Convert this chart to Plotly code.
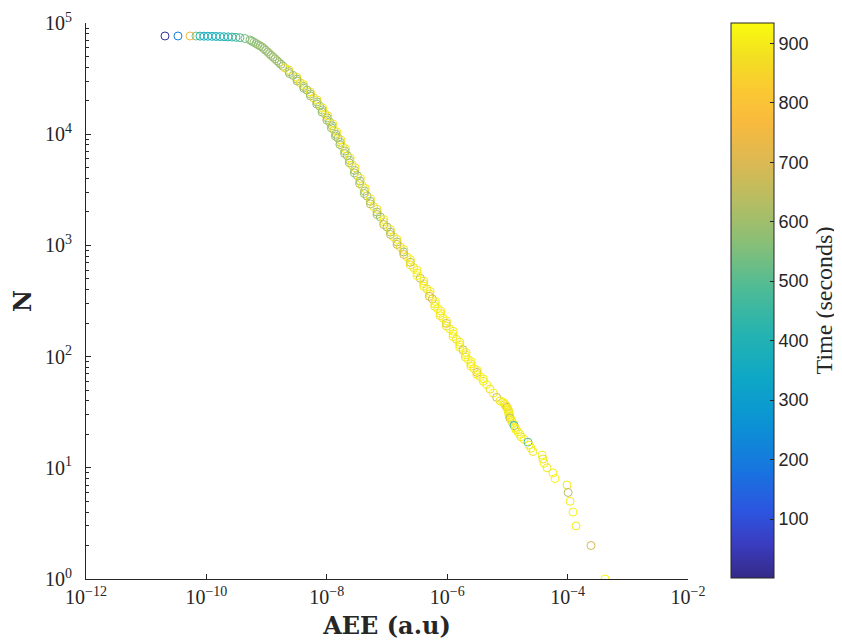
import plotly.graph_objects as go

# ---- data (AEE value, cumulative count N, time in s) ----
aee = [
    2.05e-11, 3.37e-11, 5.35e-11,
    6.71e-11, 7.83e-11, 9.12e-11, 1.06e-10, 1.24e-10, 1.44e-10, 1.68e-10, 1.96e-10,
    2.29e-10, 2.66e-10, 3.10e-10, 3.61e-10, 4.37e-10,
    5.30e-10, 6.18e-10, 7.19e-10, 8.39e-10, 9.66e-10, 1.11e-9, 1.28e-9, 1.49e-9,
    1.73e-9, 2.02e-9, 2.36e-9, 2.75e-9, 3.20e-9, 3.63e-9, 4.13e-9, 4.69e-9,
    5.32e-9, 6.05e-9, 6.87e-9, 7.60e-9, 8.43e-9, 9.33e-9, 1.02e-8, 1.11e-8,
    1.22e-8, 1.32e-8, 1.42e-8, 1.53e-8, 1.68e-8, 1.83e-8, 2.00e-8, 2.19e-8,
    2.40e-8, 2.62e-8, 2.90e-8, 3.21e-8, 3.56e-8, 3.89e-8, 4.26e-8, 4.66e-8,
    5.28e-8, 6.01e-8, 6.82e-8, 7.74e-8, 8.81e-8, 1.00e-7, 1.14e-7, 1.29e-7,
    1.47e-7, 1.66e-7, 1.89e-7, 2.15e-7, 2.44e-7, 2.77e-7, 3.15e-7, 3.57e-7,
    4.06e-7, 4.61e-7, 5.11e-7, 5.66e-7, 6.27e-7, 6.93e-7, 7.69e-7, 8.51e-7,
    9.66e-7, 1.10e-6, 1.25e-6, 1.42e-6, 1.61e-6, 1.83e-6, 2.02e-6, 2.24e-6,
    2.48e-6, 2.79e-6, 3.13e-6, 3.51e-6, 3.98e-6, 4.53e-6, 5.14e-6, 5.83e-6,
    6.64e-6, 7.54e-6,
    8.40e-6, 8.79e-6, 9.10e-6, 9.48e-6, 9.80e-6, 1.02e-5, 1.02e-5, 1.06e-5,
    1.06e-5, 1.06e-5, 1.10e-5, 1.10e-5, 1.15e-5, 1.19e-5, 1.24e-5, 1.29e-5,
    1.34e-5, 1.39e-5, 1.50e-5, 1.62e-5, 1.68e-5, 1.89e-5, 2.20e-5, 2.29e-5,
    2.47e-5, 2.66e-5, 3.76e-5, 3.90e-5, 4.06e-5, 4.55e-5, 5.71e-5, 6.18e-5,
    9.77e-5, 1.02e-4, 1.10e-4, 1.23e-4, 1.38e-4, 2.45e-4, 4.18e-4,
]

n_events = [
    76420, 76415, 76410,
    76300, 76200, 76100, 76000, 75900, 75700, 75500, 75300,
    75000, 74700, 74300, 73800, 72500,
    70300, 67000, 63800, 60800, 56800, 53000, 49400, 45800,
    42500, 39400, 36500, 33800, 31300, 29000, 26900, 24900,
    23000, 21200, 19500, 17900, 16500, 15200, 14000, 12900,
    11900, 10900, 10000, 9250, 8450, 7730, 7060, 6410,
    5820, 5280, 4730, 4240, 3790, 3420, 3080, 2780,
    2490, 2230, 1995, 1800, 1622, 1462, 1318, 1191,
    1074, 968, 873, 787, 705, 631, 565, 506,
    453, 406, 366, 330, 297, 270, 245, 222,
    199, 178, 160, 143, 128, 115, 104, 94,
    86, 78, 72, 66, 60, 56, 51, 47,
    43, 40,
    39, 38, 37, 36, 35, 34, 33, 32,
    31, 30, 29, 28, 27, 26, 25, 24,
    23, 22, 21, 20, 19, 18, 17, 16,
    15, 14, 13, 12, 11, 10, 9, 8,
    7, 6, 5, 4, 3, 2, 1,
]

time_s = [
    15, 205, 760,
    560, 400, 380, 350, 390, 360, 380, 410,
    390, 430, 460, 500, 540,
    560, 580, 570, 590, 580, 600, 590, 600,
    590, 860, 590, 600, 580, 880, 600, 590,
    600, 870, 590, 600, 580, 880, 600, 590,
    590, 870, 600, 590, 610, 890, 600, 580,
    600, 880, 590, 600, 590, 890, 600, 610,
    590, 880, 600, 590, 900, 610, 600, 890,
    620, 880, 600, 900, 640, 890, 910, 660,
    900, 880, 910, 700, 900, 920, 890, 910,
    700, 900, 920, 880, 910, 660, 900, 920,
    890, 910, 700, 920, 900, 910, 880, 920,
    680, 910,
    900, 920, 890, 910, 700, 920, 900, 910,
    880, 920, 900, 650, 910, 900, 920, 420,
    900, 910, 890, 920, 900, 910, 480, 900,
    920, 890, 910, 880, 920, 900, 910, 920,
    900, 640, 910, 920, 900, 680, 930,
]

# second pass of events filling the dense band (read between the points above)
aee_band = [
    5.72e-10, 6.67e-10, 7.77e-10, 9.00e-10, 1.04e-9, 1.19e-9, 1.38e-9, 1.61e-9, 1.87e-9,
    2.33e-9, 2.40e-9, 3.18e-9, 3.21e-9, 4.14e-9, 4.14e-9, 5.34e-9, 5.33e-9,
    6.90e-9, 6.80e-9, 8.56e-9, 8.34e-9, 1.04e-8, 1.00e-8, 1.25e-8, 1.19e-8,
    1.47e-8, 1.39e-8, 1.72e-8, 1.65e-8, 2.05e-8, 1.97e-8, 2.45e-8, 2.36e-8,
    2.95e-8, 2.87e-8, 3.62e-8, 3.50e-8, 4.35e-8, 4.19e-8, 5.31e-8, 5.29e-8,
    6.85e-8, 6.83e-8, 8.84e-8, 8.83e-8, 1.14e-7, 1.14e-7, 1.47e-7, 1.47e-7,
    1.90e-7, 1.90e-7, 2.45e-7, 2.44e-7, 3.16e-7, 3.15e-7, 4.08e-7, 4.07e-7,
    5.19e-7, 5.06e-7, 6.38e-7, 6.19e-7, 7.81e-7, 7.60e-7, 9.70e-7, 9.69e-7,
    1.26e-6, 1.25e-6, 1.62e-6, 1.61e-6, 2.06e-6, 2.00e-6, 2.52e-6, 2.47e-6,
    3.16e-6, 3.11e-6, 4.00e-6,
]

n_band = [
    68600, 65400, 62300, 58800, 54900, 51200, 47600, 44100, 40900,
    37900, 35100, 32500, 30100, 27900, 25900, 23900, 22100,
    20300, 18700, 17200, 15800, 14600, 13400, 12400, 11400,
    10440, 9620, 8840, 8080, 7390, 6730, 6110, 5540,
    5000, 4480, 4010, 3600, 3250, 2930, 2630, 2360,
    2110, 1895, 1709, 1540, 1388, 1253, 1131, 1020,
    919, 829, 745, 667, 597, 535, 479, 429,
    386, 348, 313, 283, 257, 233, 210, 188,
    169, 151, 135, 121, 109, 99, 90, 82,
    75, 69, 63,
]

time_band = [
    570, 580, 590, 580, 600, 590, 600, 590, 600,
    890, 590, 880, 600, 900, 590, 880, 600,
    890, 590, 900, 580, 880, 600, 890, 590,
    900, 600, 880, 590, 900, 600, 890, 610,
    880, 600, 900, 620, 890, 600, 900, 640,
    880, 610, 900, 660, 890, 640, 900, 680,
    890, 700, 910, 880, 900, 920, 890, 910,
    900, 700, 920, 890, 910, 900, 920, 880,
    910, 900, 890, 920, 910, 900, 920, 890,
    910, 900, 920,
]

x_tick_vals = [1e-12, 1e-10, 1e-8, 1e-6, 1e-4, 1e-2]
x_tick_text = ["10<sup>\u221212</sup>", "10<sup>\u221210</sup>", "10<sup>\u22128</sup>",
               "10<sup>\u22126</sup>", "10<sup>\u22124</sup>", "10<sup>\u22122</sup>"]
y_tick_vals = [1, 10, 100, 1000, 10000, 100000]
y_tick_text = ["10<sup>0</sup>", "10<sup>1</sup>", "10<sup>2</sup>",
               "10<sup>3</sup>", "10<sup>4</sup>", "10<sup>5</sup>"]
y_minor_vals = [m * 10 ** k for k in range(5) for m in range(2, 10)]
cbar_tick_vals = [100, 200, 300, 400, 500, 600, 700, 800, 900]

parula = [
    [0.00, "#352a87"], [0.06, "#3a3cbf"], [0.12, "#2c55e0"], [0.20, "#1677df"],
    [0.28, "#0b93d4"], [0.36, "#0ea7c6"], [0.44, "#25b3b0"], [0.52, "#4dbb96"],
    [0.60, "#86bf78"], [0.68, "#b7bd62"], [0.75, "#dcb952"], [0.82, "#f8ba3e"],
    [0.88, "#fbc932"], [0.94, "#f3e021"], [1.00, "#f9fb0e"],
]

serif = "Liberation Serif, Times New Roman, serif"
axis_color = "#262626"

all_x = aee[:3] + aee[3:16] + aee_band[:9] + aee[16:] + aee_band[9:]
all_y = n_events[:3] + n_events[3:16] + n_band[:9] + n_events[16:] + n_band[9:]
all_t = time_s[:3] + time_s[3:16] + time_band[:9] + time_s[16:] + time_band[9:]

fig = go.Figure()
fig.add_trace(go.Scatter(
    x=all_x, y=all_y, mode="markers",
    marker=dict(
        symbol="circle-open", size=8, line=dict(width=1),
        color=all_t, colorscale=parula, cmin=1, cmax=934,
        colorbar=dict(
            x=1.0714, xanchor="left", xref="paper",
            y=1, yanchor="top", len=0.998, lenmode="fraction",
            thickness=43, thicknessmode="pixels",
            outlinecolor=axis_color, outlinewidth=1,
            tickvals=cbar_tick_vals, ticks="inside", ticklen=4,
            tickcolor=axis_color, tickwidth=1,
            tickfont=dict(family="Liberation Sans, Arial, sans-serif", size=18, color=axis_color),
            xpad=0, ypad=0,
            title=dict(text="Time (seconds)", side="right",
                       font=dict(family=serif, size=24, color=axis_color)),
        ),
    ),
    showlegend=False,
))

fig.update_layout(
    width=834, height=636,
    margin=dict(l=78, r=154, t=15, b=65, autoexpand=False),
    paper_bgcolor="white", plot_bgcolor="white",
    xaxis=dict(
        type="log", range=[-12, -2],
        tickvals=x_tick_vals, ticktext=x_tick_text,
        ticks="inside", ticklen=5, tickcolor=axis_color, tickwidth=1,
        showline=True, linecolor=axis_color, linewidth=1, mirror=False,
        showgrid=False, zeroline=False,
        tickfont=dict(family=serif, size=20, color=axis_color),
        title=dict(text="<b>AEE (a.u)</b>", standoff=10,
                   font=dict(family="DejaVu Serif, serif", size=24, color=axis_color)),
    ),
    yaxis=dict(
        type="log", range=[0, 5],
        tickvals=y_tick_vals, ticktext=y_tick_text,
        ticks="inside", ticklen=5, tickcolor=axis_color, tickwidth=1,
        minor=dict(tickvals=y_minor_vals, ticks="inside", ticklen=3,
                   tickcolor=axis_color, showgrid=False),
        showline=True, linecolor=axis_color, linewidth=1, mirror=False,
        showgrid=False, zeroline=False,
        ticklabelstandoff=9,
        tickfont=dict(family=serif, size=20, color=axis_color),
        title=dict(text="<b>N</b>", standoff=12,
                   font=dict(family="DejaVu Serif, serif", size=24, color=axis_color)),
    ),
)

fig.write_html("out.html")
